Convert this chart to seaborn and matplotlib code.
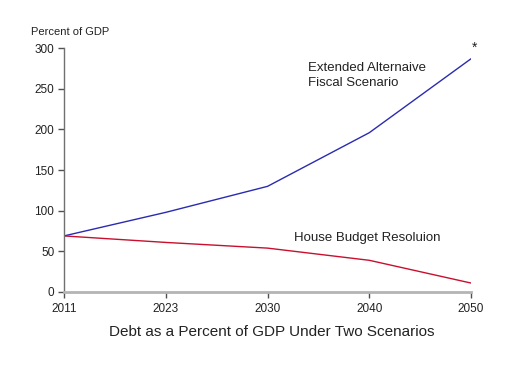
import matplotlib
matplotlib.use("Agg")

import matplotlib.pyplot as plt
import pandas as pd
import seaborn as sns

# Chart data
years = ["2011", "2023", "2030", "2040", "2050"]
extended_alt = [69, 98, 130, 196, 287]
house_budget = [69, 61, 54, 39, 11]

sns.set_style("white")
plt.rcParams["font.family"] = ["Liberation Sans", "DejaVu Sans"]

df = pd.DataFrame({
    "year": years * 2,
    "value": extended_alt + house_budget,
    "scenario": ["Extended"] * len(years) + ["House"] * len(years),
})

fig = plt.figure(figsize=(5.12, 3.65), dpi=100)
ax = fig.add_axes([0.125, 0.2, 0.795, 0.668])

sns.lineplot(data=df, x="year", y="value", hue="scenario",
             palette={"Extended": "#2b2bb0", "House": "#c8102e"},
             linewidth=1.0, legend=False, ax=ax)

ax.set_xlim(0, 4)
ax.set_ylim(0, 300)
ax.set_yticks([0, 50, 100, 150, 200, 250, 300])
ax.set_xlabel("Debt as a Percent of GDP Under Two Scenarios", fontsize=11,
              color="#222222")
ax.xaxis.set_label_coords(0.51, -0.135)
ax.set_ylabel("")

for side in ("top", "right"):
    ax.spines[side].set_visible(False)
ax.spines["left"].set_color("#707070")
ax.spines["left"].set_linewidth(1.0)
ax.spines["bottom"].set_color("#b4b4b4")
ax.spines["bottom"].set_linewidth(2.0)

ax.tick_params(axis="y", direction="out", length=4, width=1, color="#505050",
               labelsize=8.5, labelcolor="#222222", left=True, pad=3)
ax.tick_params(axis="x", direction="out", length=4, width=1, color="#505050",
               labelsize=8.5, labelcolor="#222222", bottom=True, pad=4)

# annotations
fig.text(0.06, 0.905, "Percent of GDP", fontsize=8, color="#222222")
ax.text(2.4, 283, "Extended Alternaive\nFiscal Scenario", fontsize=9.5,
        color="#222222", va="top", linespacing=1.3)
ax.text(2.26, 66, "House Budget Resoluion", fontsize=9.5, color="#222222",
        va="center")
ax.text(4.03, 300, "*", fontsize=10, color="#222222", ha="center", va="center")

fig.savefig("out.png", dpi=100)
plt.close(fig)
